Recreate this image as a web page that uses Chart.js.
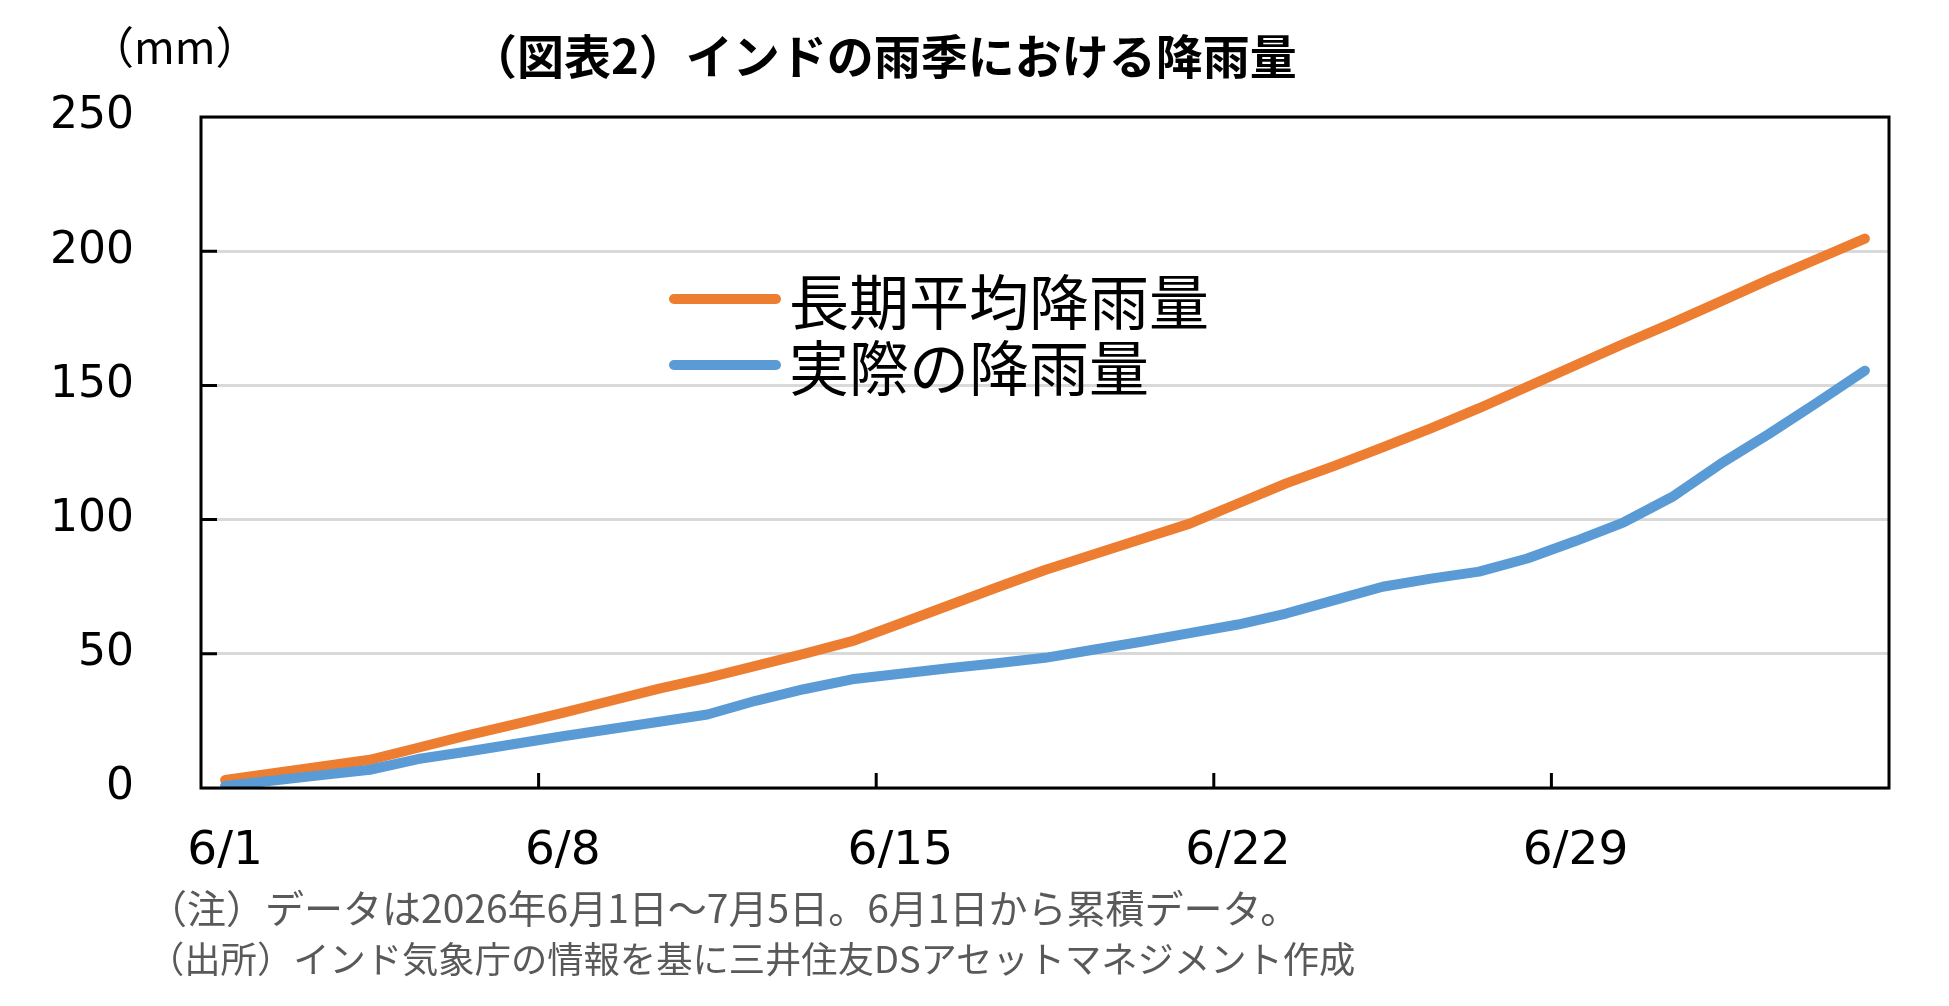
<!DOCTYPE html>
<html lang="ja">
<head>
<meta charset="utf-8">
<script src="https://cdn.jsdelivr.net/npm/chart.js@4.4.1/dist/chart.umd.min.js"></script>
<style>
  html, body { margin: 0; padding: 0; background: #fff; }
  #wrap { position: relative; width: 1949px; height: 1006px; overflow: hidden; }
  #chart { position: absolute; left: 0; top: 0; }
  .txt { position: absolute; white-space: nowrap; line-height: 1; font-family: "Noto Sans CJK JP", sans-serif; color: #000; }
  #title { left: 470px; top: 30px; font-size: 47px; font-weight: bold; }
  #unit { left: 90px; top: 23px; font-size: 44px; }
  .note { left: 148px; color: #595959; }
  #legend .row { position: absolute; left: 669px; height: 60px; display: flex; align-items: center; }
  #legend .swatch { width: 112px; height: 10px; border-radius: 5px; margin-right: 8px; }
  #legend .lbl { font-family: "Noto Sans CJK JP", sans-serif; font-size: 60px; line-height: 1; color: #000; }
</style>
</head>
<body>
<div id="wrap">
  <canvas id="chart" width="1949" height="1006"></canvas>
  <div class="txt" id="title">（図表2）インドの雨季における降雨量</div>
  <div class="txt" id="unit">（mm）</div>
  <div id="legend"></div>
  <div class="txt note" style="top:887px; font-size:39px">（注）データは2026年6月1日～7月5日。6月1日から累積データ。</div>
  <div class="txt note" style="top:939px; font-size:36.3px">（出所）インド気象庁の情報を基に三井住友DSアセットマネジメント作成</div>
</div>
<script>
// 日付（6/1〜7/5）
const dates = ['6/1', '6/2', '6/3', '6/4', '6/5', '6/6', '6/7', '6/8', '6/9', '6/10',
    '6/11', '6/12', '6/13', '6/14', '6/15', '6/16', '6/17', '6/18', '6/19', '6/20',
    '6/21', '6/22', '6/23', '6/24', '6/25', '6/26', '6/27', '6/28', '6/29', '6/30',
    '7/1', '7/2', '7/3', '7/4', '7/5'];
const xTickLabels = ['6/1', '6/8', '6/15', '6/22', '6/29'];
const yTickValues = [0, 50, 100, 150, 200, 250];
const seriesNames = ['長期平均降雨量', '実際の降雨量'];
const seriesColors = ['#ED7D31', '#5B9BD5'];

// 累積降雨量（mm）
const avgRain = [3, 5.5, 8, 10.5, 15, 19.5, 23.7, 28, 32.5, 37,
    41, 45.5, 50, 54.7, 61.3, 68, 74.7, 81.2, 87, 92.8,
    98.5, 106, 113.5, 120, 126.9, 134, 141.5, 149.5, 157.5, 165.5,
    173.2, 181.2, 189.3, 197, 204.7];
const actualRain = [0.8, 2.8, 4.8, 6.8, 10.8, 13.5, 16.4, 19.3, 22, 24.7,
    27.4, 32.5, 36.8, 40.5, 42.6, 44.6, 46.5, 48.5, 51.5, 54.5,
    57.7, 60.9, 65, 70, 75, 78, 80.6, 85.5, 92, 99,
    108.4, 120.7, 131.8, 143.5, 155.5];

// 枠線と内向きの目盛り
const frame = {
    id: 'frame',
    afterDraw(chart) {
        const { ctx, chartArea: a, scales: { x, y } } = chart;
        ctx.save();
        ctx.strokeStyle = '#000';
        ctx.lineWidth = 3;
        ctx.strokeRect(a.left, a.top, a.right - a.left, a.bottom - a.top);
        ctx.beginPath();
        yTickValues.slice(1, -1).forEach(v => {
            const py = y.getPixelForValue(v);
            ctx.moveTo(a.left, py);
            ctx.lineTo(a.left + 16, py);
        });
        xTickLabels.slice(1).forEach(l => {
            const i = dates.indexOf(l);
            const px = (x.getPixelForValue(i) + x.getPixelForValue(i - 1)) / 2;
            ctx.moveTo(px, a.bottom);
            ctx.lineTo(px, a.bottom - 15);
        });
        ctx.stroke();
        ctx.restore();
    }
};

const ctx = document.getElementById('chart').getContext('2d');
const chart = new Chart(ctx, {
    type: 'line',
    data: {
        labels: dates,
        datasets: [
            {
                label: seriesNames[0],
                data: avgRain,
                borderColor: seriesColors[0],
                borderWidth: 10,
                pointRadius: 0,
                tension: 0,
                borderCapStyle: 'round',
                borderJoinStyle: 'round',
                order: 1
            },
            {
                label: seriesNames[1],
                data: actualRain,
                borderColor: seriesColors[1],
                borderWidth: 10,
                pointRadius: 0,
                tension: 0,
                borderCapStyle: 'round',
                borderJoinStyle: 'round',
                order: 0
            }
        ]
    },
    options: {
        responsive: false,
        animation: false,
        devicePixelRatio: 1,
        layout: { padding: { left: 0, right: 60, top: 117, bottom: 0 } },
        plugins: {
            legend: { display: false },
            title: { display: false },
            tooltip: { enabled: false }
        },
        scales: {
            x: {
                offset: true,
                grid: { display: false, drawTicks: false, offset: true },
                border: { display: false },
                ticks: {
                    autoSkip: false,
                    maxRotation: 0,
                    padding: 36,
                    color: '#000',
                    font: { family: '"DejaVu Sans"', size: 47 },
                    callback: (v, i) => xTickLabels.includes(dates[i]) ? dates[i] : ''
                },
                afterFit(s) { s.height = 218; }
            },
            y: {
                min: 0,
                max: 250,
                ticks: {
                    stepSize: 50,
                    padding: 67,
                    color: '#000',
                    font: { family: '"DejaVu Sans"', size: 44 }
                },
                grid: { color: '#d9d9d9', lineWidth: 3, drawTicks: false },
                border: { display: false },
                afterFit(s) { s.width = 201; }
            }
        }
    },
    plugins: [frame]
});

// 凡例（プロット内）
const legendEl = document.getElementById('legend');
const legendRows = [269, 335];
chart.data.datasets.forEach((ds, i) => {
    const row = document.createElement('div');
    row.className = 'row';
    row.style.top = legendRows[i] + 'px';
    row.innerHTML = '<span class="swatch" style="background:' + ds.borderColor + '"></span>' +
        '<span class="lbl">' + ds.label + '</span>';
    legendEl.appendChild(row);
});
</script>
</body>
</html>
